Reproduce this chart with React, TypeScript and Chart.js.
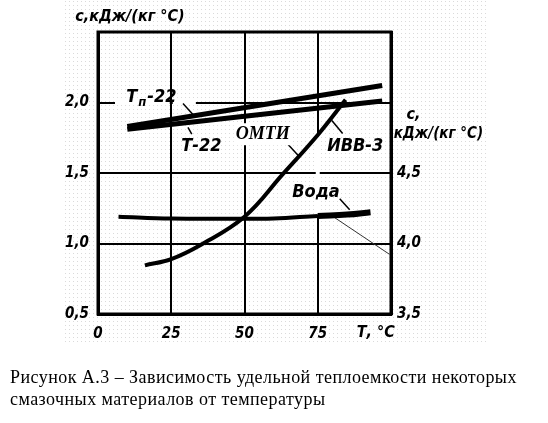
import React, { useEffect, useRef } from "react";
import { Chart, registerables } from "chart.js";

Chart.register(...registerables);

// ---- data ----
const X_TICKS = [0, 25, 50, 75, 100];
const Y_TICKS = [0.5, 1.0, 1.5, 2.0, 2.5];
const Y2_TICKS = [3.5, 4.0, 4.5];

const tempTp22 = [10, 97];
const cTp22 = [1.83, 2.12];

const tempT22 = [10, 97];
const cT22 = [1.81, 2.01];

const tempIvv = [16, 25, 35, 50, 63, 75, 84.5];
const cIvv = [0.845, 0.89, 0.99, 1.19, 1.49, 1.77, 2.02];

const tempWater = [7, 25, 50, 60, 75, 85, 93];
const cWater = [4.19, 4.177, 4.176, 4.177, 4.195, 4.205, 4.222];

const HAND = '"DejaVu Sans Condensed", "DejaVu Sans", sans-serif';

// labels: text, x (data), y (left-axis data), font size
type Lbl = { t: string; x: number; y: number; size: number; serif?: boolean; bg?: boolean; sub?: string; rest?: string };
const LABELS: Lbl[] = [
  { t: "с,кДж/(кг °С)", x: -7.8, y: 2.606, size: 16 },
  { t: "Т", sub: "п", rest: "-22", x: 9.6, y: 2.04, size: 18 },
  { t: "Т-22", x: 28.4, y: 1.69, size: 18 },
  { t: "ОМТИ", x: 47.0, y: 1.775, size: 18, serif: true, bg: true },
  { t: "ИВВ-3", x: 78.2, y: 1.69, size: 18 },
  { t: "Вода", x: 66.3, y: 1.36, size: 18 },
  { t: "с,", x: 105.3, y: 1.915, size: 16 },
  { t: "кДж/(кг °С)", x: 100.9, y: 1.775, size: 15 },
  { t: "Т, °С", x: 88.3, y: 0.366, size: 16 },
];

// leader lines in data coords [x1,y1,x2,y2,width]
const LEADERS: number[][] = [
  [29.0, 1.993, 32.4, 1.915, 1.5],
  [32.0, 1.775, 30.7, 1.824, 1.5],
  [64.8, 1.704, 68.5, 1.62, 1.5],
  [83.5, 1.78, 79.8, 1.873, 1.5],
  [82.5, 1.317, 85.9, 1.239, 1.5],
  [80.8, 1.183, 99.5, 0.923, 1],
];

const pts = (xs: number[], ys: number[]) => xs.map((x, i) => ({ x, y: ys[i] }));
const fmt = (v: number) => v.toFixed(1).replace(".", ",");

export default function App() {
  const ref = useRef<HTMLCanvasElement>(null);

  useEffect(() => {
    const canvas = ref.current!;
    const tile = document.createElement("canvas");
    tile.width = 4;
    tile.height = 4;
    const tctx = tile.getContext("2d")!;
    tctx.fillStyle = "#dadada";
    tctx.fillRect(1, 1, 1, 1);

    const deco = {
      id: "deco",
      beforeDraw(chart: any) {
        const { ctx } = chart;
        ctx.save();
        ctx.fillStyle = "#fff";
        ctx.fillRect(0, 0, chart.width, chart.height);
        const pat = ctx.createPattern(tile, "repeat");
        ctx.fillStyle = pat;
        ctx.fillRect(62, 0, 424, 343);
        ctx.restore();
      },
      beforeDatasetsDraw(chart: any) {
        const { ctx, scales } = chart;
        const xs = scales.x, ys = scales.y;
        const px = (v: number) => xs.getPixelForValue(v);
        const py = (v: number) => ys.getPixelForValue(v);
        ctx.save();
        ctx.fillStyle = "#fff";
        // gap in the 75 grid line between the curve and the water line
        const gx = px(75);
        ctx.fillRect(gx - 2, py(1.76), 4, py(1.204) - py(1.76));
        // gap in the 2.0 grid line behind the Тп-22 label
        const g25 = px(25), y20 = py(2.0);
        ctx.fillRect(px(5.8), y20 - 2.5, g25 - 1.5 - px(5.8), 5);
        ctx.fillRect(g25 + 1.5, y20 - 2.5, px(33.4) - g25 - 1.5, 5);
        // frame
        const a = chart.chartArea;
        ctx.strokeStyle = "#000";
        ctx.lineWidth = 3;
        ctx.strokeRect(a.left, a.top, a.right - a.left, a.bottom - a.top);
        // leaders
        LEADERS.forEach(([x1, y1, x2, y2, w]) => {
          ctx.beginPath();
          ctx.lineWidth = w;
          ctx.strokeStyle = w < 1.2 ? "#333" : "#000";
          ctx.moveTo(px(x1), py(y1));
          ctx.lineTo(px(x2), py(y2));
          ctx.stroke();
        });
        // labels
        ctx.textBaseline = "middle";
        ctx.textAlign = "left";
        LABELS.forEach((l) => {
          const font = l.serif
            ? `italic bold ${l.size}px "Liberation Serif", serif`
            : `italic bold ${l.size}px ${HAND}`;
          const subFont = `italic bold ${l.size - 5}px ${HAND}`;
          ctx.font = font;
          const x = px(l.x), y = py(l.y);
          const w = ctx.measureText(l.t).width;
          let subW = 0, restW = 0;
          if (l.sub) {
            ctx.font = subFont;
            subW = ctx.measureText(l.sub).width;
            ctx.font = font;
            restW = ctx.measureText(l.rest || "").width;
          }
          const total = w + subW + restW;
          if (l.bg) {
            ctx.fillStyle = "#fff";
            ctx.fillRect(x - 2, y - l.size / 2 - 2, total + 4, l.size + 4);
          }
          ctx.fillStyle = "#000";
          ctx.fillText(l.t, x, y);
          if (l.sub) {
            ctx.font = subFont;
            ctx.fillText(l.sub, x + w + 1, y + 6);
            ctx.font = font;
            ctx.fillText(l.rest || "", x + w + subW + 2, y);
          }
        });
        ctx.restore();
      },
    };

    const tickFont = { family: HAND, size: 15, style: "italic" as const, weight: "bold" as const };

    const chart = new Chart(canvas, {
      type: "line",
      data: {
        datasets: [
          { label: "Тп-22", data: pts(tempTp22, cTp22), borderColor: "#000", borderWidth: 5, pointRadius: 0, yAxisID: "y" },
          { label: "Т-22", data: pts(tempT22, cT22), borderColor: "#000", borderWidth: 5, pointRadius: 0, yAxisID: "y" },
          {
            label: "ОМТИ / ИВВ-3",
            data: pts(tempIvv, cIvv),
            borderColor: "#000",
            borderWidth: 4,
            pointRadius: 0,
            tension: 0.4,
            yAxisID: "y",
          },
          {
            label: "Вода",
            data: pts(tempWater, cWater),
            borderColor: "#000",
            borderWidth: 4,
            pointRadius: 0,
            tension: 0.4,
            yAxisID: "y2",
            segment: { borderWidth: (c: any) => (c.p0DataIndex >= 4 ? 6 : 4) },
          } as any,
        ],
      },
      options: {
        animation: false,
        responsive: false,
        devicePixelRatio: 1,
        layout: { padding: { top: 32, left: 0, right: 0, bottom: 0 } },
        plugins: { legend: { display: false }, tooltip: { enabled: false } },
        scales: {
          x: {
            type: "linear",
            min: X_TICKS[0],
            max: X_TICKS[X_TICKS.length - 1],
            afterBuildTicks: (s: any) => { s.ticks = X_TICKS.map((v) => ({ value: v })); },
            afterFit: (s: any) => { s.height = 109; },
            ticks: {
              callback: (v: any) => (Number(v) === 100 ? "" : String(v)),
              color: "#000",
              font: tickFont,
              padding: 11,
              maxRotation: 0,
            },
            grid: { color: "#000", lineWidth: 2, drawTicks: false },
            border: { display: true, color: "#000", width: 3 },
          },
          y: {
            type: "linear",
            position: "left",
            min: Y_TICKS[0],
            max: Y_TICKS[Y_TICKS.length - 1],
            afterBuildTicks: (s: any) => { s.ticks = Y_TICKS.map((v) => ({ value: v })); },
            afterFit: (s: any) => { s.width = 98; },
            ticks: {
              callback: (v: any) => (Number(v) >= 2.5 ? "" : fmt(Number(v))),
              color: "#000",
              font: tickFont,
              padding: 9,
            },
            grid: { color: "#000", lineWidth: 2, drawTicks: false },
            border: { display: true, color: "#000", width: 3 },
          },
          y2: {
            type: "linear",
            position: "right",
            min: 3.5,
            max: 5.5,
            afterBuildTicks: (s: any) => { s.ticks = Y2_TICKS.map((v) => ({ value: v })); },
            afterFit: (s: any) => { s.width = 157; },
            ticks: {
              callback: (v: any) => fmt(Number(v)),
              color: "#000",
              font: tickFont,
              padding: 6,
            },
            grid: { display: false, drawTicks: false },
            border: { display: true, color: "#000", width: 3 },
          },
        },
      },
      plugins: [deco],
    });
    return () => chart.destroy();
  }, []);

  return (
    <div style={{ position: "absolute", left: 0, top: 0, width: 548, height: 423, background: "#fff" }}>
      <canvas ref={ref} width={548} height={423} style={{ position: "absolute", left: 0, top: 0, width: 548, height: 423 }} />
      <div
        style={{
          position: "absolute",
          left: 10,
          top: 366,
          width: 540,
          fontFamily: '"Liberation Serif", "Times New Roman", serif',
          fontSize: 18,
          letterSpacing: "0.45px",
          lineHeight: "22px",
          color: "#000",
          whiteSpace: "nowrap",
        }}
      >
        <div>Рисунок А.3 – Зависимость удельной теплоемкости некоторых</div>
        <div>смазочных материалов от температуры</div>
      </div>
    </div>
  );
}
